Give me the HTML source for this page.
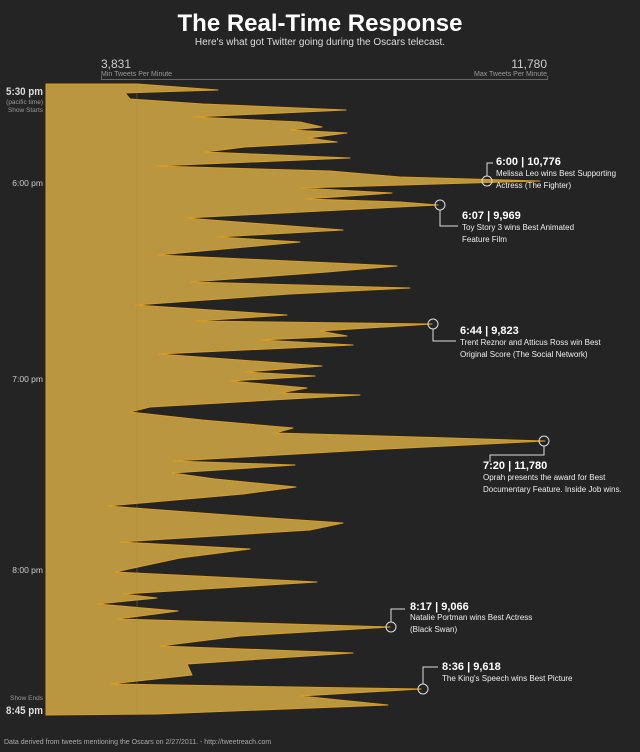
<!DOCTYPE html>
<html><head><meta charset="utf-8"><style>
body{margin:0;background:#232323;}
svg{display:block}
text{font-family:"Liberation Sans",sans-serif;}
</style></head><body>
<svg width="640" height="752" viewBox="0 0 640 752" xmlns="http://www.w3.org/2000/svg">
<rect width="640" height="752" fill="#242424"/>
<text x="320" y="31" text-anchor="middle" fill="#fff" font-size="24" font-weight="bold">The Real-Time Response</text>
<text x="320" y="45" text-anchor="middle" fill="#ddd" font-size="10">Here's what got Twitter going during the Oscars telecast.</text>
<text x="101" y="68" fill="#ccc" font-size="12">3,831</text>
<text x="101" y="76" fill="#999" font-size="7">Min Tweets Per Minute</text>
<text x="547" y="68" fill="#ccc" font-size="12" text-anchor="end">11,780</text>
<text x="547" y="76" fill="#999" font-size="7" text-anchor="end">Max Tweets Per Minute</text>
<path d="M101.5 76 V79.5 H547.5 V76" stroke="#666" fill="none"/>
<g fill="#ccc" text-anchor="end">
<text x="43" y="95" font-size="11" fill="#ddd" font-weight="bold" textLength="37" lengthAdjust="spacingAndGlyphs">5:30 pm</text>
<text x="43" y="104" font-size="6.5" fill="#999">(pacific time)</text>
<text x="43" y="112" font-size="6.5" fill="#999">Show Starts</text>
<text x="43" y="186" font-size="8.5">6:00 pm</text>
<text x="43" y="382" font-size="8.5">7:00 pm</text>
<text x="43" y="573" font-size="8.5">8:00 pm</text>
<text x="43" y="700" font-size="6.5" fill="#999">Show Ends</text>
<text x="43" y="714" font-size="11" fill="#ddd" font-weight="bold" textLength="37" lengthAdjust="spacingAndGlyphs">8:45 pm</text>
</g>
<polygon fill="#b9963f" stroke="#d99c22" stroke-width="1" stroke-linejoin="round" points="
46,84 137,84 218,90 125,93 130,99 203,104 346,110 193,117 300,122 322,127 290,130 347,133 308,138 337,142 245,147 205,152 350,158 155,166 330,171 400,177 540,181 300,188 392,193 305,199 400,202 438,205 185,218 343,230 217,237 300,242 158,255 397,266 327,272 190,282 410,288 290,294 135,305 287,315 195,321 432,324 320,331 347,336 260,340 353,345 158,354 322,366 245,372 315,376 230,381 307,388 280,393 360,395 150,407 130,412 202,420 293,428 275,433 450,438 545,441 367,450 173,461 295,465 172,473 215,479 296,487 243,494 107,506 255,517 343,523 310,530 120,542 250,549 180,558 115,572 317,582 123,594 157,598 97,604 178,611 117,619 390,627 240,636 160,646 353,653 187,664 192,675 110,684 421,689 300,696 388,705 157,714 46,715"/>
<line x1="137" y1="84" x2="137" y2="715" stroke="#a88838" stroke-width="1" opacity="0.35"/>
<g stroke="#ddd" fill="none" stroke-width="1">
<circle cx="487" cy="181" r="5"/><path d="M487 176 V163 H493"/>
<circle cx="440" cy="205" r="5"/><path d="M440 210 V226 H458"/>
<circle cx="433" cy="324" r="5"/><path d="M433 329 V341 H456"/>
<circle cx="544" cy="441" r="5"/><path d="M544 446 V455 H490 V462"/>
<circle cx="391" cy="627" r="5"/><path d="M391 622 V609 H405"/>
<circle cx="423" cy="689" r="5"/><path d="M423 684 V667 H438"/>
</g>
<g fill="#eee" font-size="8">
<text x="496" y="165" font-size="11" font-weight="bold" fill="#fff">6:00 | 10,776</text>
<text x="496" y="176">Melissa Leo wins Best Supporting</text>
<text x="496" y="188">Actress (The Fighter)</text>
<text x="462" y="219" font-size="11" font-weight="bold" fill="#fff">6:07 | 9,969</text>
<text x="462" y="230">Toy Story 3 wins Best Animated</text>
<text x="462" y="242">Feature Film</text>
<text x="460" y="334" font-size="11" font-weight="bold" fill="#fff">6:44 | 9,823</text>
<text x="460" y="345">Trent Reznor and Atticus Ross win Best</text>
<text x="460" y="357">Original Score (The Social Network)</text>
<text x="483" y="469" font-size="11" font-weight="bold" fill="#fff">7:20 | 11,780</text>
<text x="483" y="480">Oprah presents the award for Best</text>
<text x="483" y="492">Documentary Feature. Inside Job wins.</text>
<text x="410" y="610" font-size="11" font-weight="bold" fill="#fff">8:17 | 9,066</text>
<text x="410" y="620">Natalie Portman wins Best Actress</text>
<text x="410" y="632">(Black Swan)</text>
<text x="442" y="670" font-size="11" font-weight="bold" fill="#fff">8:36 | 9,618</text>
<text x="442" y="681">The King's Speech wins Best Picture</text>
</g>
<text x="4" y="744" fill="#aaa" font-size="7">Data derived from tweets mentioning the Oscars on 2/27/2011. - http://tweetreach.com</text>
</svg>
</body></html>
